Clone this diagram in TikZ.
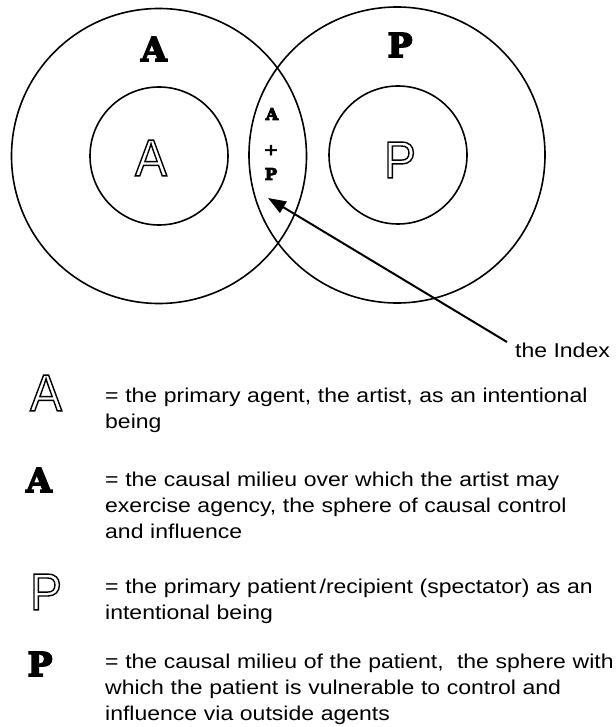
\documentclass[tikz,border=0pt]{standalone}
\usepackage{fontspec}
\setmainfont{Liberation Sans}[FakeStretch=1.15]
\newfontfamily\slabfont{DejaVu Serif}
\newfontfamily\outfont{Liberation Sans}[FakeStretch=0.92]
\usetikzlibrary{arrows.meta}

% text rendering mode: 1 = outline only, 2 = fill and stroke
\newcommand\rendertext[3]{%
  \special{pdf:literal direct #1 Tr #2 w}#3\special{pdf:literal direct 0 Tr}}
\newcommand\outlinetext[1]{\rendertext{1}{1.4}{#1}}
\newcommand\heavytext[2][1.6]{\rendertext{2}{#1}{#2}}

\begin{document}
\begin{tikzpicture}[x=1pt,y=-1pt,
  ring/.style={draw, circle, inner sep=0pt, line width=1.6pt},
  slab/.style={inner sep=0pt, font=\slabfont\bfseries\fontsize{33}{33}\selectfont},
  smallslab/.style={inner sep=0pt, font=\slabfont\bfseries\fontsize{16}{16}\selectfont},
  outl/.style={inner sep=0pt, font=\outfont\fontsize{52}{52}\selectfont},
  legend/.style={inner sep=0pt, anchor=base west, align=left, text width=560pt,
                 font=\fontsize{20}{26}\selectfont},
  pointer/.style={line width=2pt, -{Triangle[length=18pt,width=13pt]}}]
\useasboundingbox (0,0) rectangle (615,727);
\clip (0,0) rectangle (615,727);

% circles
\node[ring, minimum size=295pt] (Aouter) at (159,156) {};
\node[ring, minimum size=296pt] (Pouter) at (397,155) {};
\node[ring, minimum size=138pt] (Ainner) at (159,156) {};
\node[ring, minimum size=138pt] (Pinner) at (398,155) {};

% labels in circles
\node[slab] (Abold) at (154,49) {\heavytext{A}};
\node[slab] (Pbold) at (400,45) {\heavytext{P}};
\node[outl] (Aout) at (151,158) {\outlinetext{A}};
\node[outl] (Pout) at (400,160) {\outlinetext{P}};

% lens
\node[smallslab] (lensA) at (272,114) {\heavytext[1]{A}};
\node[inner sep=0pt, font=\fontsize{20}{20}\selectfont] (lensplus) at (271,151) {\heavytext[0.6]{+}};
\node[smallslab] (lensP) at (271,174) {\heavytext[1]{P}};

% the index
\node[inner sep=0pt, anchor=base west, font=\fontsize{20}{24}\selectfont] (index) at (515,357) {the Index};
\coordinate (tail) at (507,342);
\coordinate (tip) at (268,198);
\draw[pointer] (tail) -- (tip);

% legend
\node[outl] (legA) at (46,393) {\outlinetext{A}};
\node[legend] (txtA) at (105,402) {= the primary agent, the artist, as an intentional\\being};

\node[slab] (legAbold) at (39,480) {\heavytext{A}};
\node[legend] (txtAbold) at (105,486) {= the causal milieu over which the artist may\\exercise agency, the sphere of causal control\\and influence};

\node[outl] (legP) at (46,592) {\outlinetext{P}};
\node[legend] (txtP) at (105,593) {= the primary patient\,/recipient (spectator) as an\\intentional being};

\node[slab] (legPbold) at (40,664) {\heavytext{P}};
\node[legend] (txtPbold) at (105,668) {= the causal milieu of the patient,\ \ the sphere with\\which the patient is vulnerable to control and\\influence via outside agents};
\end{tikzpicture}
\end{document}
